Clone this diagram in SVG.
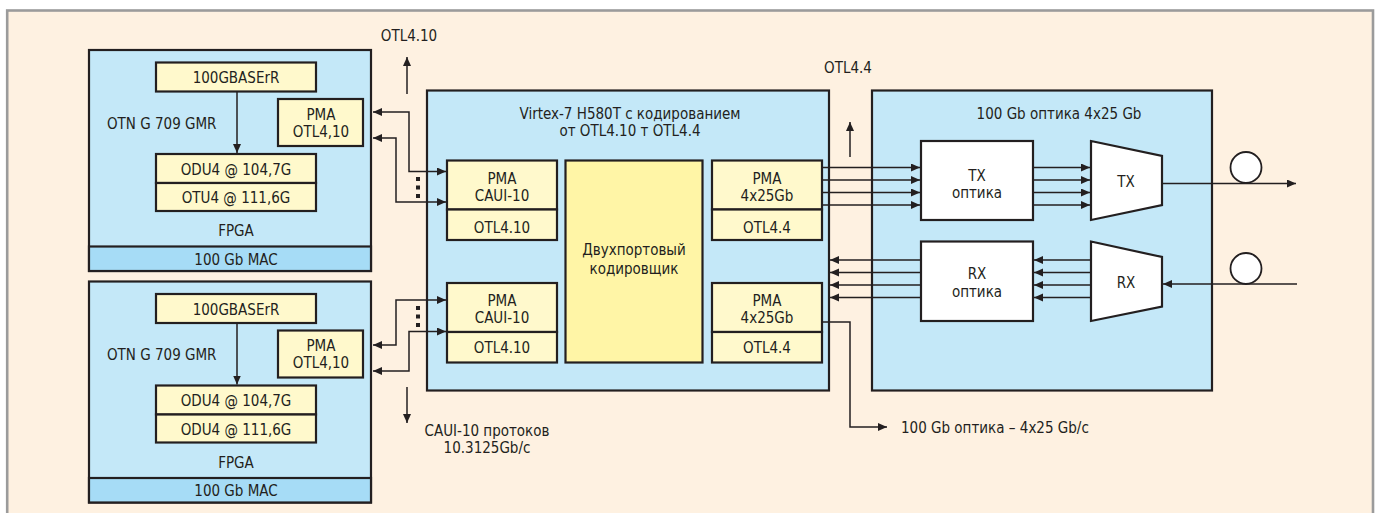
<svg xmlns="http://www.w3.org/2000/svg" width="1380" height="513" viewBox="0 0 1380 513">
<defs>
<style>
text{font-family:"DejaVu Sans Condensed","Liberation Sans",sans-serif;font-size:15px;fill:#231f20}
.m{text-anchor:middle}
.blue{fill:#c4e8f8;stroke:#231f20;stroke-width:2.2}
.mac{fill:#a6dcf6;stroke:#231f20;stroke-width:2.2}
.yel{fill:#fff9cc;stroke:#231f20;stroke-width:2.2}
.yel2{fill:#fff5a6;stroke:#231f20;stroke-width:2.2}
.wht{fill:#ffffff;stroke:#231f20;stroke-width:2.2}
.arr{fill:none;stroke:#231f20;stroke-width:1.5;marker-end:url(#ah)}
.arr2{fill:none;stroke:#231f20;stroke-width:1.5;marker-end:url(#ah);marker-start:url(#ah)}
.dot{fill:#231f20}
</style>
<marker id="ah" markerUnits="userSpaceOnUse" markerWidth="10" markerHeight="10" refX="9" refY="4" orient="auto-start-reverse">
<path d="M0,0 L9,4 L0,8 z" fill="#231f20"/>
</marker>
</defs>
<rect x="0" y="0" width="1380" height="513" fill="#ffffff"/>
<rect id="frame" x="7.2" y="10.5" width="1365.8" height="520" fill="#fef1e1" stroke="#9b9b9b" stroke-width="2.6"/>

<g id="fpga1">
<rect class="blue" x="89" y="50" width="282" height="221"/>
<rect class="mac" x="89" y="246.5" width="282" height="24.5"/>
<rect class="yel" x="156" y="62.5" width="160" height="29"/>
<rect class="yel" x="278" y="99" width="85" height="47"/>
<rect class="yel" x="156" y="154" width="160" height="29"/>
<rect class="yel" x="156" y="183" width="160" height="28"/>
<text class="m" x="236" y="82.5">100GBASErR</text>
<text x="107" y="128.5">OTN G 709 GMR</text>
<text class="m" x="321" y="119.5">PMA</text>
<text class="m" x="321" y="136.5">OTL4,10</text>
<text class="m" x="236" y="174.5">ODU4 @ 104,7G</text>
<text class="m" x="236" y="202.5">OTU4 @ 111,6G</text>
<text class="m" x="236" y="235.5">FPGA</text>
<text class="m" x="236" y="264.5">100 Gb MAC</text>
<line class="arr" x1="237" y1="91.5" x2="237" y2="153"/>
</g>

<g id="fpga2">
<rect class="blue" x="89" y="281.5" width="282" height="221"/>
<rect class="mac" x="89" y="478" width="282" height="24.5"/>
<rect class="yel" x="156" y="294" width="160" height="29"/>
<rect class="yel" x="278" y="330.5" width="85" height="47"/>
<rect class="yel" x="156" y="385.5" width="160" height="29"/>
<rect class="yel" x="156" y="414.5" width="160" height="28"/>
<text class="m" x="236" y="315">100GBASErR</text>
<text x="107" y="359.5">OTN G 709 GMR</text>
<text class="m" x="321" y="351">PMA</text>
<text class="m" x="321" y="368">OTL4,10</text>
<text class="m" x="236" y="406">ODU4 @ 104,7G</text>
<text class="m" x="236" y="434.5">ODU4 @ 111,6G</text>
<text class="m" x="236" y="467.5">FPGA</text>
<text class="m" x="236" y="496">100 Gb MAC</text>
<line class="arr" x1="237" y1="323" x2="237" y2="384.5"/>
</g>

<g id="virtex">
<rect class="blue" x="427" y="90.5" width="402" height="300"/>
<text class="m" x="630" y="118.5">Virtex-7 H580T с кодированием</text>
<text class="m" x="630" y="135.5">от OTL4.10 т OTL4.4</text>
<rect class="yel" x="447" y="160.5" width="110" height="49"/>
<rect class="yel" x="447" y="209.5" width="110" height="30.5"/>
<text class="m" x="502" y="183.5">PMA</text>
<text class="m" x="502" y="200.5">CAUI-10</text>
<text class="m" x="502" y="232.5">OTL4.10</text>
<rect class="yel" x="447" y="283" width="110" height="49"/>
<rect class="yel" x="447" y="332" width="110" height="30.5"/>
<text class="m" x="502" y="305.5">PMA</text>
<text class="m" x="502" y="322.5">CAUI-10</text>
<text class="m" x="502" y="352.5">OTL4.10</text>
<rect class="yel2" x="565.5" y="160.5" width="137" height="202"/>
<text class="m" x="634" y="254.5">Двухпортовый</text>
<text class="m" x="634" y="273.5">кодировщик</text>
<rect class="yel" x="712" y="160.5" width="110" height="49"/>
<rect class="yel" x="712" y="209.5" width="110" height="30.5"/>
<text class="m" x="767" y="183.5">PMA</text>
<text class="m" x="767" y="200.5">4x25Gb</text>
<text class="m" x="767" y="232.5">OTL4.4</text>
<rect class="yel" x="712" y="283" width="110" height="49"/>
<rect class="yel" x="712" y="332" width="110" height="30.5"/>
<text class="m" x="767" y="305.5">PMA</text>
<text class="m" x="767" y="322.5">4x25Gb</text>
<text class="m" x="767" y="352.5">OTL4.4</text>
</g>

<g id="optics">
<rect class="blue" x="872" y="90.5" width="340" height="300"/>
<text class="m" x="1059" y="118.5">100 Gb оптика 4x25 Gb</text>
<rect class="wht" x="921" y="141" width="112" height="79"/>
<text class="m" x="977" y="180.5">TX</text>
<text class="m" x="977" y="198">оптика</text>
<polygon class="wht" points="1091,141 1162,156 1162,205 1091,220"/>
<text class="m" x="1126" y="187">TX</text>
<rect class="wht" x="921" y="241.5" width="112" height="79.5"/>
<text class="m" x="977" y="278.5">RX</text>
<text class="m" x="977" y="297">оптика</text>
<polygon class="wht" points="1091,241.5 1162,257 1162,306.5 1091,321"/>
<text class="m" x="1126" y="288">RX</text>
</g>

<g id="labels">
<text class="m" x="409" y="40.5">OTL4.10</text>
<text class="m" x="848" y="72.5">OTL4.4</text>
<text class="m" x="487" y="435.5">CAUI-10 протоков</text>
<text class="m" x="487" y="452.5">10.3125Gb/c</text>
<text x="901" y="432.5">100 Gb оптика – 4x25 Gb/c</text>
<circle cx="1246" cy="167.5" r="15.5" fill="#ffffff" stroke="#231f20" stroke-width="1.8"/>
<circle cx="1246" cy="268.5" r="15.5" fill="#ffffff" stroke="#231f20" stroke-width="1.8"/>
</g>

<g id="connectors">
<line class="arr" x1="407" y1="94" x2="407" y2="57"/>
<line class="arr" x1="407" y1="387" x2="407" y2="423"/>
<line class="arr" x1="850" y1="157" x2="850" y2="122"/>
<polyline class="arr2" points="373,112 409,112 409,171.5 446,171.5"/>
<polyline class="arr2" points="373,138 396,138 396,202 446,202"/>
<polyline class="arr2" points="373,345 396,345 396,300 446,300"/>
<polyline class="arr2" points="373,371 409,371 409,331.5 446,331.5"/>
<rect class="dot" x="416" y="177" width="4" height="4"/>
<rect class="dot" x="416" y="185.5" width="4" height="4"/>
<rect class="dot" x="416" y="194" width="4" height="4"/>
<rect class="dot" x="416" y="306" width="4" height="4"/>
<rect class="dot" x="416" y="314.5" width="4" height="4"/>
<rect class="dot" x="416" y="323" width="4" height="4"/>
<line class="arr" x1="823" y1="167.5" x2="920" y2="167.5"/>
<line class="arr" x1="823" y1="180" x2="920" y2="180"/>
<line class="arr" x1="823" y1="192.5" x2="920" y2="192.5"/>
<line class="arr" x1="823" y1="205" x2="920" y2="205"/>
<line class="arr" x1="1034" y1="167.5" x2="1090" y2="167.5"/>
<line class="arr" x1="1034" y1="180" x2="1090" y2="180"/>
<line class="arr" x1="1034" y1="192.5" x2="1090" y2="192.5"/>
<line class="arr" x1="1034" y1="205" x2="1090" y2="205"/>
<line class="arr" x1="1162" y1="183.5" x2="1296" y2="183.5"/>
<line class="arr" x1="1297" y1="284" x2="1163" y2="284"/>
<line class="arr" x1="1091" y1="260" x2="1034" y2="260"/>
<line class="arr" x1="1091" y1="272.5" x2="1034" y2="272.5"/>
<line class="arr" x1="1091" y1="285" x2="1034" y2="285"/>
<line class="arr" x1="1091" y1="297.5" x2="1034" y2="297.5"/>
<line class="arr" x1="921" y1="260" x2="830" y2="260"/>
<line class="arr" x1="921" y1="272.5" x2="830" y2="272.5"/>
<line class="arr" x1="921" y1="285" x2="830" y2="285"/>
<line class="arr" x1="921" y1="297.5" x2="830" y2="297.5"/>
<polyline class="arr" points="822,322 850,322 850,427 887,427"/>
</g>
</svg>
